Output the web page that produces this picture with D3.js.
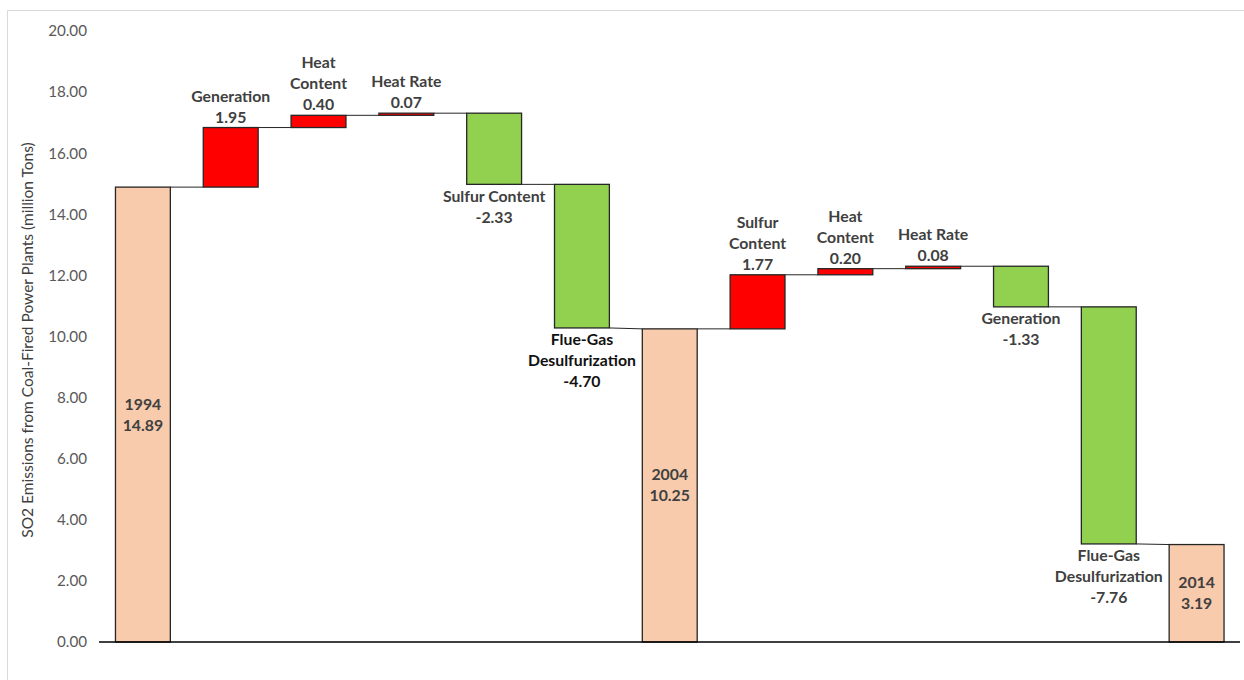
<!DOCTYPE html>
<html><head><meta charset="utf-8">
<script src="https://cdn.jsdelivr.net/npm/d3@7"></script>
<style>
html,body{margin:0;padding:0;background:#fff;}
svg{display:block;font-family:Lato,"Open Sans",sans-serif;}
</style></head>
<body>
<svg id="c" width="1244" height="680"></svg>
<script>
const categories = ["1994","Generation","Heat\nContent","Heat Rate","Sulfur Content","Flue-Gas\nDesulfurization","2004","Sulfur\nContent","Heat\nContent","Heat Rate","Generation","Flue-Gas\nDesulfurization","2014"];
const values = [14.89, 1.95, 0.40, 0.07, -2.33, -4.70, 10.25, 1.77, 0.20, 0.08, -1.33, -7.76, 3.19];
const isTotal = [true,false,false,false,false,false,true,false,false,false,false,false,true];
const yTicks = [0,2,4,6,8,10,12,14,16,18,20];
const yTitle = "SO2 Emissions from Coal-Fired Power Plants (million Tons)";

const svg = d3.select("#c");
svg.append("path").attr("d","M7.5,680 L7.5,10.5 L1244,10.5").attr("fill","none").attr("stroke","#d9d9d9").attr("stroke-width",1);

const x = d3.scaleBand().domain(d3.range(categories.length)).range([99,1240.5]).paddingInner(0.375).paddingOuter(0.1875);
const y = d3.scaleLinear().domain([0,20]).range([642,31]);
const fmt = v => d3.format(".2f")(v).replace("\u2212","-");

let run = 0;
const bars = values.map((v,i)=>{
  let start,end;
  if(isTotal[i]){ start=0; end=v; run=v; }
  else { start=run; end=run+v; run=end; }
  return {i, v, start, end, total:isTotal[i], name:categories[i]};
});

const yAxis = d3.axisLeft(y).tickValues(yTicks).tickFormat(fmt).tickSize(0).tickPadding(0);
const ga = svg.append("g").attr("transform","translate(87,0)").call(yAxis);
ga.select(".domain").remove();
ga.selectAll("text").attr("font-size",15.2).attr("fill","#595959").attr("font-family","Lato, sans-serif");

svg.append("text").attr("transform","translate(33,340) rotate(-90)").attr("text-anchor","middle")
  .attr("font-size",15.5).attr("fill","#404040").text(yTitle);

for(let k=0;k<bars.length-1;k++){
  const a=bars[k], b=bars[k+1];
  const y1=y(a.end);
  const y2=b.total? y(b.v): y(b.start);
  svg.append("line").attr("x1",x(k)+x.bandwidth()).attr("y1",y1).attr("x2",x(k+1)).attr("y2",y2)
    .attr("stroke","#262626").attr("stroke-width",1);
}

const color = d=> d.total? "#F8CBAD" : (d.v>=0? "#FF0000" : "#92D050");
svg.append("g").selectAll("rect").data(bars).join("rect")
  .attr("x",d=>x(d.i)).attr("width",x.bandwidth())
  .attr("y",d=>y(Math.max(d.start,d.end)))
  .attr("height",d=>Math.abs(y(d.start)-y(d.end)))
  .attr("fill",color).attr("stroke","#262626").attr("stroke-width",1.3);

svg.append("line").attr("x1",99).attr("x2",1240).attr("y1",642).attr("y2",642).attr("stroke","#000").attr("stroke-width",1.3);

const lh = 21;
bars.forEach(d=>{
  const lines = d.name.split("\n").concat([fmt(d.v)]);
  const cx = x(d.i)+x.bandwidth()/2;
  let baselines;
  if(d.total){
    const mid = (y(0)+y(d.v))/2;
    baselines = [mid-10.5+5.5, mid+10.5+5.5];
  } else if(d.v>=0){
    const top = y(d.end);
    baselines = lines.map((_,j)=> top-5-(lines.length-1-j)*lh);
  } else {
    const bot = y(d.end);
    baselines = lines.map((_,j)=> bot+17.5+j*lh);
  }
  const fill = (d.i===5)? "#111" : "#404040";
  lines.forEach((t,j)=>{
    svg.append("text").attr("x",cx).attr("y",baselines[j]).attr("text-anchor","middle")
      .attr("font-size",15.8).attr("font-weight","bold").attr("fill",fill).text(t);
  });
});
</script>
</body></html>
